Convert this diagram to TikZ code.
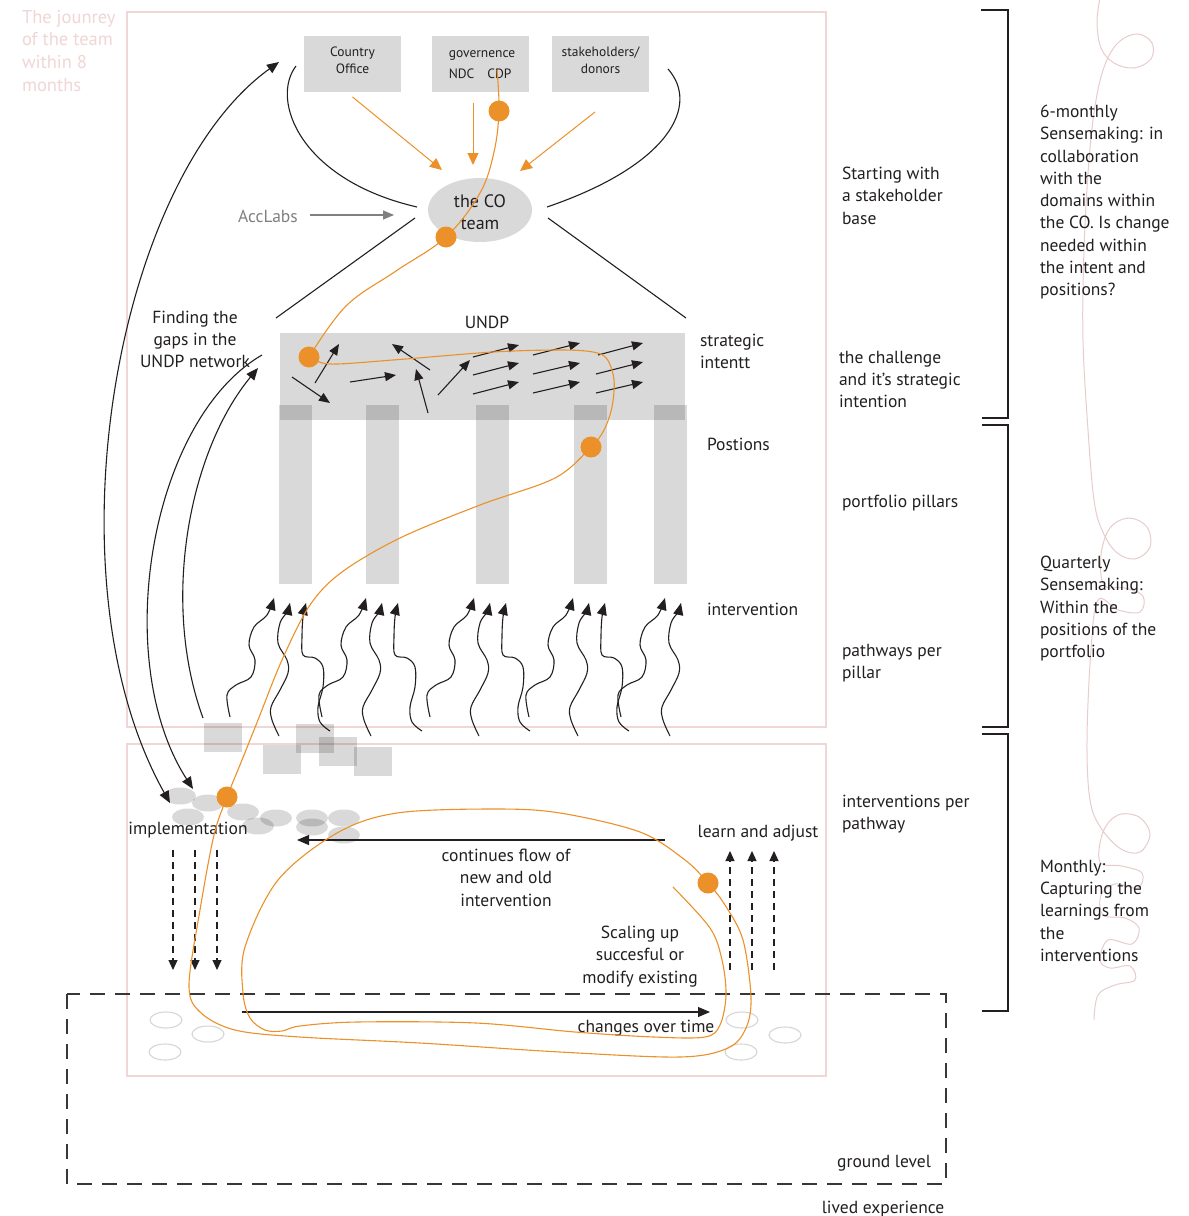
\documentclass[tikz,border=0pt]{standalone}
\usepackage{fontspec}
\setmainfont{PT Sans}
\usetikzlibrary{arrows.meta,shapes.geometric}

\definecolor{ink}{RGB}{35,31,32}
\definecolor{org}{RGB}{236,145,42}
\definecolor{blush}{RGB}{240,214,214}
\definecolor{swirl}{RGB}{232,204,204}
\definecolor{midgrey}{RGB}{128,128,128}
\definecolor{boxgrey}{RGB}{217,217,217}
\definecolor{ringgrey}{RGB}{214,214,214}
\definecolor{dashgrey}{RGB}{55,55,55}

\tikzset{
  every node/.style={inner sep=0pt, outer sep=0pt, text=ink},
  body/.style={font=\fontsize{17.5}{22.3}\selectfont},
  note/.style={body, align=left, anchor=north west},
  boxtxt/.style={font=\fontsize{13.5}{17}\selectfont, align=center},
  greyfill/.style={fill=black, fill opacity=0.15, draw=none},
  headed/.style={-{Triangle[length=12pt,width=10pt]}},
  smallhead/.style={-{Triangle[length=11pt,width=9pt]}},
  inkline/.style={draw=ink, line width=1.1pt},
  orangeline/.style={draw=org, line width=1.1pt},
  odot/.style={circle, fill=org, minimum size=21pt},
  pinkframe/.style={draw=blush, line width=1.2pt},
  dashlink/.style={inkline, dash pattern=on 7pt off 5pt},
  ring/.style={draw=ringgrey, line width=1.1pt},
}

\begin{document}
\begin{tikzpicture}[x=1pt,y=-1pt]
\useasboundingbox (0,0) rectangle (1189,1216);
\fill[white] (0,0) rectangle (1189,1216);

% ---------- frames ----------
\draw[pinkframe] (127,12) rectangle (826,727);
\draw[pinkframe] (127,744) rectangle (826,1076);
\draw[draw=dashgrey, line width=1.1pt, dash pattern=on 15pt off 10pt] (67,994) rectangle (946,1184);

\node[note, text=blush, font=\fontsize{18.5}{22.8}\selectfont] (title) at (22,10) {The jounrey\\of the team\\within 8\\months};

% ---------- stakeholder base ----------
\node[greyfill, minimum width=97pt, minimum height=56pt] (cobox) at (352.5,64) {};
\node[greyfill, minimum width=97pt, minimum height=56pt] (govbox) at (480.5,64) {};
\node[greyfill, minimum width=97pt, minimum height=56pt] (donbox) at (600.5,64) {};
\node[boxtxt] (cotxt) at (352.5,60.5) {Country\\Office};
\node[boxtxt, align=left] (govtxt) at (482,64.5) {governence\\[4pt]NDC\hspace{13pt}CDP};
\node[boxtxt] (dontxt) at (600.5,60.5) {stakeholders/\\donors};

\node[ellipse, fill=boxgrey, minimum width=104pt, minimum height=64pt,
      font=\fontsize{18}{22}\selectfont, align=center] (team) at (480,210) {};
\node[align=center, font=\fontsize{18}{22}\selectfont] (teamtxt) at (480,212) {the CO\\team};

\coordinate (t1) at (442,170);
\coordinate (t2) at (473,165);
\coordinate (t3) at (520,171);
\draw[orangeline, -{Triangle[length=12pt,width=11pt]}, line width=1pt] ([yshift=-5pt]cobox.south) -- (t1);
\draw[orangeline, -{Triangle[length=12pt,width=11pt]}, line width=1pt] (473,103) -- (t2);
\draw[orangeline, -{Triangle[length=12pt,width=11pt]}, line width=1pt] (595,112) -- (t3);

\node[body, text=midgrey] (acc) at (268,216.5) {AccLabs};
\coordinate (accend) at (394,215);
\draw[draw=midgrey, line width=1.1pt, -{Triangle[length=11pt,width=9pt]}] (310,215) -- (accend);

% funnel lines round the team
\coordinate (fl0) at (296,66);
\coordinate (fl1) at (417,207);
\coordinate (fr0) at (668,69);
\coordinate (fr1) at (547,207);
\draw[inkline] (fl0) .. controls (270,100) and (300,180) .. (fl1);
\draw[inkline] (fr0) .. controls (700,105) and (670,165) .. (fr1);
\draw[inkline] (415,218) -- (276,318);
\draw[inkline] (548,218) -- (686,318);

% ---------- UNDP band and pillars ----------
\node[body] (undp) at (487,322) {UNDP};
\fill[black, fill opacity=0.15] (280,333) rectangle (685,420);
\foreach \px in {279,366,476,574,654}
  \fill[black, fill opacity=0.15] (\px,405) rectangle (\px+33,584);

\foreach \a/\b/\c/\d in {292/377/330/403, 315/383/339/344, 350/382/396/375,
    430/370/392/344, 428/413/416/369, 438/395/470/360,
    473/357/519/345, 473/375/519/363, 473/394/519/382,
    533/355/580/343, 533/374/580/363, 533/393/580/382,
    598/355/643/343, 596/374/643/362, 596/393/643/382}
  \draw[inkline, smallhead] (\a,\b) -- (\c,\d);

% ---------- wavy intervention arrows ----------
\foreach \dx/\third in {0/1, 92/1, 200/1, 299/1, 391/0} {
  \begin{scope}[xshift=\dx pt]
    \draw[inkline, headed] plot[smooth, tension=0.6] coordinates
      {(230,717) (227,695) (236,685) (251,677) (255,660) (249,645) (254,627) (267,615) (274,598)};
    \draw[inkline, headed] plot[smooth, tension=0.6] coordinates
      {(279,736) (272,720) (271,707) (280,690) (288,673) (287,660) (278,643) (280,623) (287,612) (290,603)};
    \ifnum\third=1
    \draw[inkline, headed] plot[smooth, tension=0.6] coordinates
      {(330,731) (320,722) (318,707) (323,687) (323,667) (315,658) (303,655) (302,637) (303,617) (306,603)};
    \fi
  \end{scope}
}

% ---------- implementation cluster ----------
\foreach \sx/\sy in {204/723, 263/745, 296/724, 319/737, 354/747}
  \fill[black, fill opacity=0.15] (\sx,\sy) rectangle (\sx+38,\sy+29);
\foreach \ex/\ey in {180/796, 208/803, 188/817, 243/812, 258/826, 276/818, 312/818, 312/827, 344/818, 344/835}
  \fill[black, fill opacity=0.15] (\ex,\ey) ellipse [x radius=16, y radius=8.5];

% ---------- feedback arcs on the left ----------
\coordinate (aTop) at (279,62);
\coordinate (aBot) at (170,803);
\coordinate (bTop) at (262,355);
\coordinate (bBot) at (193,789);
\coordinate (cBot) at (203,718);
\coordinate (cTop) at (258,368);
\draw[inkline, {Triangle[length=12pt,width=10pt]}-{Triangle[length=12pt,width=10pt]}]
  (aTop) .. controls (115,180) and (45,580) .. (aBot);
\draw[inkline, headed] (bTop) .. controls (150,420) and (110,660) .. (bBot);
\draw[inkline, headed] (cBot) .. controls (160,600) and (190,450) .. (cTop);

\node[body, align=center, anchor=north] (gaps) at (195,311) {Finding the\\gaps in the\\UNDP network};

% ---------- bottom loop texts and arrows ----------
\node[body] (impl) at (188,830) {implementation};
\node[body] (learn) at (758,833) {learn and adjust};
\coordinate (flowR) at (665,840);
\coordinate (flowL) at (297,840);
\draw[inkline, headed] (flowR) -- (flowL);
\node[body, align=center, anchor=north] (flow) at (506,849) {continues flow of\\new and old\\intervention};
\node[body, align=center, anchor=north] (scale) at (640,926) {Scaling up\\succesful or\\modify existing};
\coordinate (timeL) at (242,1012);
\coordinate (timeR) at (710,1012);
\draw[inkline, headed] (timeL) -- (timeR);
\node[body] (time) at (646,1028) {changes over time};

\foreach \xx in {173,195,217}
  \draw[dashlink, -{Triangle[length=10pt,width=9pt]}] (\xx,850) -- (\xx,970);
\foreach \xx in {730,752,774}
  \draw[dashlink, -{Triangle[length=10pt,width=9pt]}] (\xx,970) -- (\xx,851);

\foreach \rx/\ry in {166/1020, 208/1034, 165/1052, 742/1020, 785/1035, 741/1052}
  \draw[ring] (\rx,\ry) ellipse [x radius=16, y radius=8];

\node[body] (ground) at (884,1163) {ground level};
\node[body] (lived) at (883,1209) {lived experience};

% ---------- orange journey line ----------
\draw[orangeline] plot[smooth, tension=0.6] coordinates
  {(497,70) (499,111) (494,152) (480,193) (446,237) (396,271) (346,306) (309,357)};
\draw[orangeline] plot[smooth, tension=0.55] coordinates
  {(309,357) (330,364) (393,360) (493,352) (560,350) (593,352) (607,359) (614,380)
   (612,407) (604,430) (591,447) (555,478) (480,505) (400,538) (342,572) (310,605)
   (282,660) (258,720) (242,760) (227,797) (214,835) (200,910) (189,985) (200,1012)
   (235,1030) (300,1037) (420,1043) (560,1052) (680,1057) (728,1048) (746,1028)
   (751,997) (743,940) (725,905) (708,883) (685,860) (640,832) (560,813) (495,809)
   (397,813) (337,833) (278,880) (245,947) (243,993) (250,1018) (265,1030) (282,1031)
   (300,1026) (357,1022) (476,1023) (575,1032) (654,1037) (705,1037) (720,1025)
   (726,995) (722,960) (710,928) (673,887)};

\node[odot] (d1) at (499,111) {};
\node[odot] (d2) at (446,237) {};
\node[odot] (d3) at (309,357) {};
\node[odot] (d4) at (591,447) {};
\node[odot] (d5) at (227,797) {};
\node[odot] (d6) at (708,883) {};

% ---------- level labels ----------
\node[note] (stake) at (842,167) {Starting with\\a stakeholder\\base};
\node[note] (intent) at (700,334) {strategic\\intentt};
\node[note] (chal) at (839,351) {the challenge\\and it's strategic\\intention};
\node[note] (pos) at (707,438) {Postions};
\node[note] (pill) at (842,495) {portfolio pillars};
\node[note] (intv) at (707,603) {intervention};
\node[note] (path) at (842,644) {pathways per\\pillar};
\node[note] (perpath) at (842,795) {interventions per\\pathway};

% ---------- rhythm brackets ----------
\draw[inkline, line width=1.2pt] (981,10) -- (1008,10) -- (1008,418) -- (982,418);
\draw[inkline, line width=1.2pt] (982,425) -- (1008,425) -- (1008,727) -- (982,727);
\draw[inkline, line width=1.2pt] (982,734) -- (1008,734) -- (1008,1011) -- (982,1011);

% ---------- decorative thread ----------
\draw[swirl, line width=1pt] plot[smooth, tension=0.6] coordinates
  {(1100,-2) (1097,22) (1101,48) (1114,63) (1134,68) (1151,59) (1152,43) (1138,34)
   (1120,41) (1106,62) (1096,100) (1089,160) (1084,250) (1083,340) (1088,430)
   (1094,500) (1102,530) (1116,552) (1135,559) (1150,547) (1147,527) (1129,518)
   (1110,528) (1101,555) (1104,585) (1125,588) (1143,596) (1140,612) (1118,610)
   (1098,600) (1091,650) (1087,740) (1090,800) (1101,828) (1121,849) (1140,852)
   (1150,834) (1139,817) (1118,815) (1103,832) (1100,862) (1122,866) (1142,873)
   (1138,888) (1115,884) (1101,895) (1103,915) (1125,918) (1139,928) (1132,944)
   (1108,940) (1100,960) (1110,968) (1130,966) (1135,980) (1115,985) (1098,995)
   (1094,1020)};

\node[note] (six) at (1040,105) {6-monthly\\Sensemaking: in\\collaboration\\with the\\domains within\\the CO. Is change\\needed within\\the intent and\\positions?};
\node[note] (quart) at (1040,556) {Quarterly\\Sensemaking:\\Within the\\positions of the\\portfolio};
\node[note] (month) at (1040,860) {Monthly:\\Capturing the\\learnings from\\the\\interventions};

\end{tikzpicture}
\end{document}
